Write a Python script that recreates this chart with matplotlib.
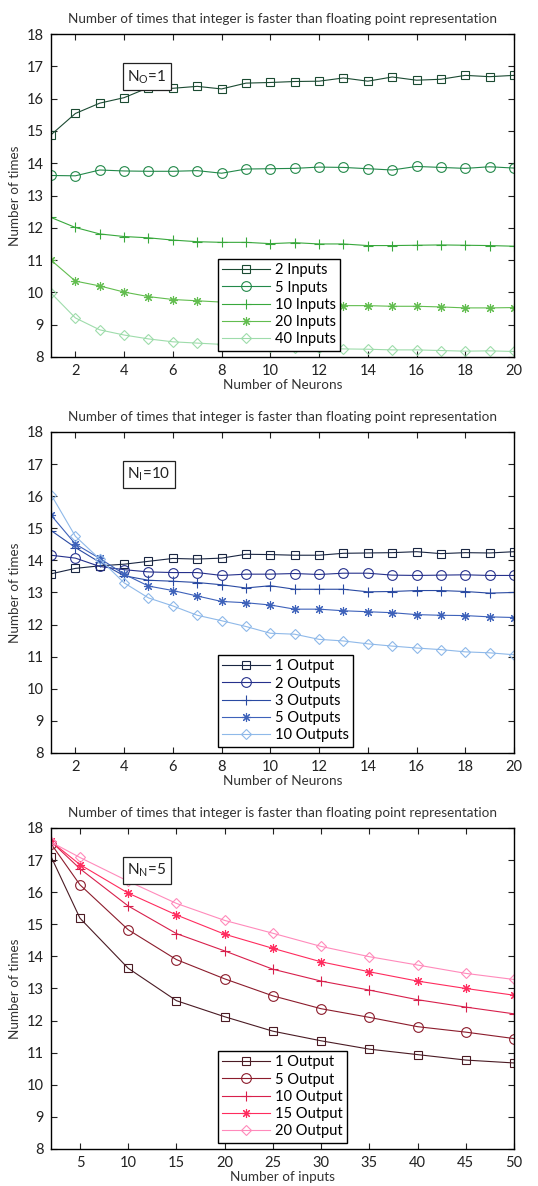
import matplotlib.pyplot as plt
import numpy as np

plt.rcParams['font.family'] = ['Lato', 'DejaVu Sans']
plt.rcParams['mathtext.fontset'] = 'custom'
plt.rcParams['mathtext.rm'] = 'Lato'

title = "Number of times that integer is faster than floating point representation"

# panel 1: N_O = 1, x = number of neurons
neurons = list(range(1, 21))
in_labels = ['2 Inputs', '5 Inputs', '10 Inputs', '20 Inputs', '40 Inputs']
in2 = [14.88, 15.54, 15.86, 16.03, 16.34, 16.32, 16.38, 16.30, 16.48, 16.50,
       16.53, 16.54, 16.64, 16.54, 16.67, 16.57, 16.60, 16.72, 16.68, 16.72]
in5 = [13.62, 13.61, 13.79, 13.76, 13.75, 13.75, 13.77, 13.69, 13.82, 13.83,
       13.84, 13.88, 13.87, 13.83, 13.79, 13.90, 13.87, 13.84, 13.89, 13.85]
in10 = [12.32, 12.01, 11.81, 11.73, 11.69, 11.62, 11.57, 11.55, 11.55, 11.51,
        11.54, 11.50, 11.50, 11.45, 11.45, 11.46, 11.47, 11.46, 11.45, 11.43]
in20 = [11.00, 10.35, 10.20, 10.01, 9.87, 9.78, 9.74, 9.70, 9.66, 9.64,
        9.62, 9.60, 9.59, 9.59, 9.57, 9.57, 9.55, 9.52, 9.52, 9.53]
in40 = [9.98, 9.21, 8.84, 8.68, 8.56, 8.47, 8.43, 8.39, 8.34, 8.31,
        8.29, 8.27, 8.25, 8.24, 8.22, 8.22, 8.20, 8.18, 8.19, 8.17]
in_colors = ['#1b4a32', '#23894a', '#38a83c', '#62bd4f', '#9edcab']

# panel 2: N_I = 10, x = number of neurons
out_labels = ['1 Output', '2 Outputs', '3 Outputs', '5 Outputs', '10 Outputs']
out1 = [13.58, 13.75, 13.83, 13.88, 13.97, 14.06, 14.04, 14.07, 14.19, 14.18,
        14.16, 14.16, 14.22, 14.23, 14.24, 14.27, 14.21, 14.24, 14.23, 14.27]
out2 = [14.16, 14.07, 13.81, 13.71, 13.64, 13.62, 13.62, 13.53, 13.57, 13.57,
        13.59, 13.56, 13.60, 13.60, 13.54, 13.53, 13.54, 13.55, 13.53, 13.53]
out3 = [14.93, 14.40, 13.94, 13.52, 13.38, 13.35, 13.31, 13.24, 13.14, 13.21,
        13.10, 13.10, 13.10, 13.02, 13.03, 13.06, 13.06, 13.03, 12.98, 13.00]
out5 = [15.41, 14.51, 14.06, 13.57, 13.20, 13.06, 12.89, 12.72, 12.68, 12.61,
        12.48, 12.48, 12.43, 12.40, 12.37, 12.31, 12.29, 12.28, 12.24, 12.22]
out10 = [16.05, 14.75, 14.04, 13.30, 12.83, 12.58, 12.29, 12.12, 11.94, 11.73,
         11.70, 11.54, 11.49, 11.40, 11.33, 11.27, 11.22, 11.15, 11.12, 11.06]
out_colors = ['#1a2642', '#26318c', '#2a4aa2', '#3e62ba', '#8fb9e9']

# panel 3: N_N = 5, x = number of inputs
inputs = [2, 5, 10, 15, 20, 25, 30, 35, 40, 45, 50]
nn_labels = ['1 Output', '5 Output', '10 Output', '15 Output', '20 Output']
nn1 = [17.11, 15.19, 13.63, 12.62, 12.12, 11.67, 11.37, 11.11, 10.94, 10.77, 10.68]
nn5 = [17.51, 16.23, 14.83, 13.90, 13.30, 12.77, 12.37, 12.10, 11.81, 11.64, 11.44]
nn10 = [17.58, 16.73, 15.57, 14.71, 14.17, 13.60, 13.23, 12.95, 12.65, 12.42, 12.21]
nn15 = [17.58, 16.86, 15.97, 15.29, 14.69, 14.25, 13.83, 13.52, 13.23, 13.00, 12.79]
nn20 = [17.56, 17.08, 16.34, 15.65, 15.12, 14.72, 14.31, 13.99, 13.73, 13.47, 13.28]
nn_colors = ['#4a1b24', '#8c1c2c', '#d8204c', '#ff2c5e', '#ff8abb']

markers = ['s', 'o', '+', (8, 2, 0), 'D']
msizes = [5.5, 7, 7, 6.5, 5.5]

fig = plt.figure(figsize=(5.38, 11.86), dpi=100)
left, width = 0.0948, 0.8606
boxes = [(0.6990, 0.2723), (0.3651, 0.2707), (0.0312, 0.2707)]

panels = [
    (neurons, [in2, in5, in10, in20, in40], in_labels, in_colors, 'Number of Neurons',
     r'N$_\mathregular{O}$=1', (1, 20), list(range(2, 21, 2))),
    (neurons, [out1, out2, out3, out5, out10], out_labels, out_colors, 'Number of Neurons',
     r'N$_\mathregular{I}$=10', (1, 20), list(range(2, 21, 2))),
    (inputs, [nn1, nn5, nn10, nn15, nn20], nn_labels, nn_colors, 'Number of inputs',
     r'N$_\mathregular{N}$=5', (2, 50), list(range(5, 51, 5))),
]

for (bottom, height), (x, series, labels, colors, xlabel, note, xlim, xt) in zip(boxes, panels):
    ax = fig.add_axes([left, bottom, width, height])
    for y, lab, c, m, ms in zip(series, labels, colors, markers, msizes):
        ax.plot(x, y, color=c, marker=m, markersize=ms, markerfacecolor='none',
                markeredgecolor=c, markeredgewidth=0.8, linewidth=0.8, label=lab)
    ax.set_xlim(*xlim)
    ax.set_ylim(8, 18)
    ax.set_xticks(xt)
    ax.set_yticks(range(8, 19))
    ax.tick_params(direction='in', top=True, right=True, length=4, width=0.8,
                   labelsize=10.5, colors='#222222', pad=5)
    for s in ax.spines.values():
        s.set_linewidth(1.0)
    ax.set_title(title, fontsize=9.7, color='#333333', pad=8)
    ax.set_xlabel(xlabel, fontsize=9.7, color='#333333', labelpad=1)
    ax.set_ylabel('Number of times', fontsize=9.7, color='#333333', labelpad=4)
    ax.text(0.165, 0.855, note, transform=ax.transAxes, fontsize=11, color='#222222',
            bbox=dict(boxstyle='square,pad=0.3', facecolor='white', edgecolor='#222222', linewidth=0.9))
    leg = ax.legend(loc='lower left', bbox_to_anchor=(0.36, 0.02), fontsize=10.5,
                    frameon=True, fancybox=False, edgecolor='black', framealpha=1,
                    handlelength=3.3, handletextpad=0.3, labelspacing=0.22,
                    borderpad=0.3, borderaxespad=0)
    leg.get_frame().set_linewidth(1.0)

fig.savefig('out.png', dpi=100)
